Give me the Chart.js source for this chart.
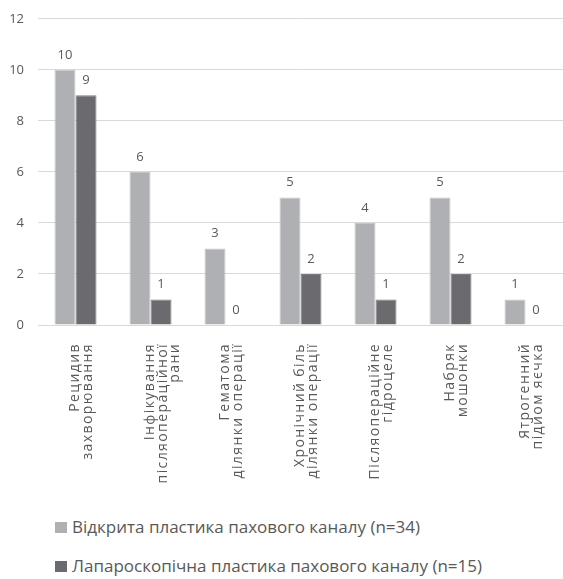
<!DOCTYPE html>
<html>
<head>
    <meta charset="utf-8">
    <title>Ускладнення</title>
    <script src="https://cdn.jsdelivr.net/npm/chart.js@4.4.0/dist/chart.umd.min.js"></script>
    <style>
        body { margin: 0; background: #fff; font-family: "Open Sans", sans-serif; overflow: hidden; }
        #wrap { position: relative; width: 563px; height: 579px; }
        #box { position: absolute; left: 0; top: -3px; width: 563px; height: 503px; }
        .leg { position: absolute; left: 55px; font-size: 17px; line-height: 20px; color: #595959; white-space: nowrap; }
        .leg span { display: inline-block; width: 12px; height: 11px; margin-right: 5px; vertical-align: baseline; }
    </style>
</head>
<body>
<div id="wrap">
    <div id="box"><canvas id="myChart"></canvas></div>
    <div class="leg" style="top:517px"><span style="background:#afb0b3"></span>Відкрита пластика пахового каналу (n=34)</div>
    <div class="leg" style="top:556px"><span style="background:#6b6b6f"></span>Лапароскопічна пластика пахового каналу (n=15)</div>
</div>
<script>
    // categories (multi-line, as in the original)
    const categories = [
        ['Рецидив', 'захворювання'],
        ['Інфікування', 'післяопераційної', 'рани'],
        ['Гематома', 'ділянки операції'],
        ['Хронічний біль', 'ділянки операції'],
        ['Післяопераційне', 'гідроцеле'],
        ['Набряк', 'мошонки'],
        ['Ятрогенний', 'підйом яєчка']
    ];
    const openValues = [10, 6, 3, 5, 4, 5, 1];
    const laparoValues = [9, 1, 0, 2, 1, 2, 0];
    const seriesNames = ['Відкрита пластика пахового каналу (n=34)', 'Лапароскопічна пластика пахового каналу (n=15)'];

    // category labels in the original are a bit spaced out -> only the x axis
    const spacing = {
        id: 'spacing',
        afterLayout(chart) {
            const sc = chart.scales.x;
            if (sc._spaced) return;
            const orig = sc.drawLabels;
            sc.drawLabels = function (area) {
                const c = this.ctx;
                c.save();
                c.letterSpacing = '1.4px';
                orig.call(this, area);
                c.restore();
            };
            sc._spaced = true;
        }
    };

    // value labels above bars
    const valueLabels = {
        id: 'valueLabels',
        afterDatasetsDraw(chart) {
            const ctx = chart.ctx;
            ctx.save();
            ctx.font = '13px "Open Sans"';
            ctx.fillStyle = '#595959';
            ctx.textAlign = 'center';
            ctx.textBaseline = 'middle';
            chart.data.datasets.forEach((ds, i) => {
                chart.getDatasetMeta(i).data.forEach((bar, j) => {
                    ctx.fillText(ds.data[j], bar.x, bar.y - 15);
                });
            });
            ctx.restore();
        }
    };

    const ctx = document.getElementById('myChart');
    const myChart = new Chart(ctx, {
        type: 'bar',
        data: {
            labels: categories,
            datasets: [
                { label: seriesNames[0], data: openValues, backgroundColor: '#afb0b3', borderColor: '#c4c5c7', borderWidth: 1 },
                { label: seriesNames[1], data: laparoValues, backgroundColor: '#6b6b6f', borderColor: '#7e7e82', borderWidth: 1 }
            ]
        },
        options: {
            responsive: true,
            maintainAspectRatio: false,
            animation: false,
            layout: { padding: { top: 2, right: 0, left: 0 } },
            datasets: { bar: { categoryPercentage: 0.56, barPercentage: 1 } },
            plugins: {
                legend: { display: false },
                tooltip: { enabled: false }
            },
            scales: {
                x: {
                    grid: { display: false },
                    border: { color: '#d9d9d9' },
                    ticks: {
                        color: '#595959',
                        font: { family: 'Open Sans', size: 14, lineHeight: 0.88 },
                        maxRotation: 90,
                        minRotation: 90,
                        autoSkip: false,
                        padding: 10
                    },
                    afterFit(scale) { scale.height = 175; }
                },
                y: {
                    min: 0,
                    max: 12,
                    ticks: {
                        stepSize: 2,
                        color: '#595959',
                        font: { family: 'Open Sans', size: 13 },
                        padding: 14
                    },
                    grid: { color: '#d9d9d9', drawTicks: false },
                    border: { display: false },
                    afterFit(scale) { scale.width = 38; }
                }
            }
        },
        plugins: [spacing, valueLabels]
    });
</script>
</body>
</html>
